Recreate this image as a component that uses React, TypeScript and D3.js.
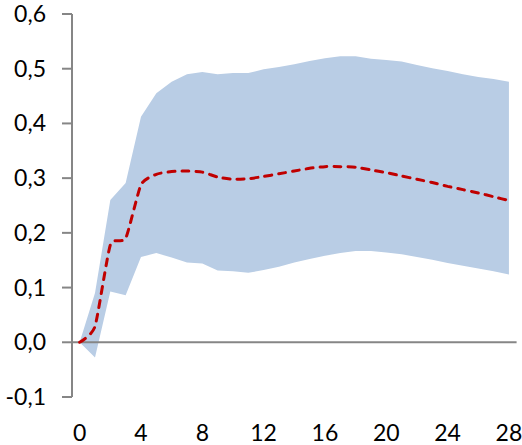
import * as d3 from 'd3'

const steps = d3.range(0, 29)
const xTicks = [0, 4, 8, 12, 16, 20, 24, 28]
const yTicks = [-0.1, 0, 0.1, 0.2, 0.3, 0.4, 0.5, 0.6]

const upper = [0, 0.09, 0.26, 0.291, 0.412, 0.455, 0.476, 0.49, 0.494, 0.49, 0.492, 0.492, 0.499, 0.503, 0.508,
    0.514, 0.519, 0.523, 0.523, 0.518, 0.516, 0.513, 0.507, 0.501, 0.496, 0.49, 0.485, 0.481, 0.476]
const lower = [0, -0.028, 0.093, 0.086, 0.156, 0.163, 0.155, 0.146, 0.144, 0.131, 0.13, 0.127, 0.132, 0.138, 0.146,
    0.152, 0.158, 0.163, 0.167, 0.167, 0.164, 0.161, 0.156, 0.151, 0.145, 0.14, 0.135, 0.13, 0.124]
const response = [0, 0.029, 0.178, 0.19, 0.288, 0.307, 0.312, 0.313, 0.311, 0.302, 0.298, 0.299, 0.303, 0.308, 0.313,
    0.318, 0.321, 0.321, 0.32, 0.315, 0.31, 0.304, 0.298, 0.292, 0.285, 0.279, 0.273, 0.266, 0.259]

const W = 522
const H = 445
const left = 72
const right = 516.6
const top = 14
const bottom = 397
const font = 'Lato, "DejaVu Sans", sans-serif'

export default function App() {
    const x = d3.scaleBand<number>().domain(steps).range([left, right]).padding(0)
    const cx = (n: number) => (x(n) as number) + x.bandwidth() / 2
    const y = d3.scaleLinear().domain([-0.1, 0.6]).range([bottom, top])

    const band = d3.area<number>()
        .x(d => cx(d))
        .y0(d => y(lower[d]))
        .y1(d => y(upper[d]))

    // smoothed line, but not as loose as Catmull-Rom
    const line = d3.line<number>()
        .x(d => cx(d))
        .y(d => y(response[d]))
        .curve(d3.curveCardinal.tension(0.45))

    const fmt = (v: number) => d3.format('.1f')(v).replace('.', ',').replace('−', '-')

    return (
        <svg width={W} height={H} style={{ position: 'absolute', left: 0, top: 0 }}>
            <path d={band(steps) || ''} fill="#b9cde5" />
            <line x1={left} x2={right} y1={y(0)} y2={y(0)} stroke="#868686" strokeWidth={2} />
            <line x1={left} x2={left} y1={top} y2={bottom} stroke="#868686" strokeWidth={2} />
            {yTicks.map(t => (
                <g key={t}>
                    <line x1={left - 10} x2={left} y1={y(t)} y2={y(t)} stroke="#868686" strokeWidth={2} />
                    <text x={46} y={y(t)} dy="0.35em" textAnchor="end" fontFamily={font} fontSize={23} fill="#000">
                        {fmt(t)}
                    </text>
                </g>
            ))}
            <path d={line(steps) || ''} fill="none" stroke="#c00000" strokeWidth={3}
                strokeDasharray="7,7" strokeLinecap="round" />
            {xTicks.map(t => (
                <text key={t} x={cx(t)} y={441} textAnchor="middle" fontFamily={font} fontSize={23} fill="#000">
                    {t}
                </text>
            ))}
        </svg>
    )
}
